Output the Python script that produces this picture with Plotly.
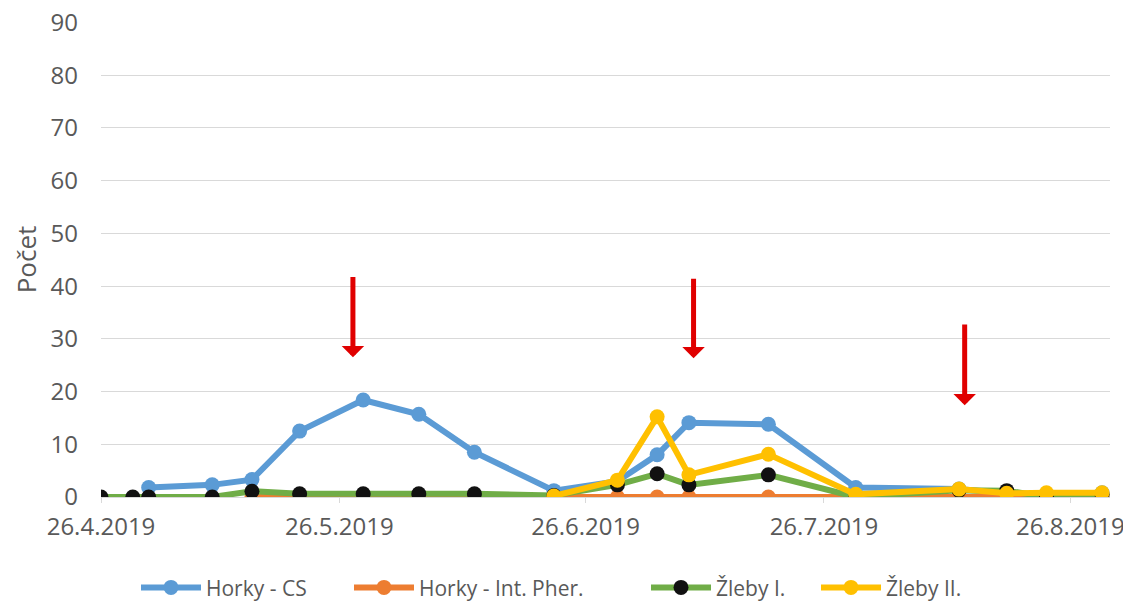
import plotly.graph_objects as go

# ---- data ----
dates_cs = ['2019-05-02', '2019-05-10', '2019-05-15', '2019-05-21', '2019-05-29',
            '2019-06-05', '2019-06-12', '2019-06-22', '2019-06-30', '2019-07-05',
            '2019-07-09', '2019-07-19', '2019-07-30', '2019-08-12', '2019-08-18',
            '2019-08-23', '2019-08-30']
horky_cs = [1.8, 2.3, 3.3, 12.5, 18.4, 15.7, 8.5, 1.2, 3.0, 8.0,
            14.1, 13.8, 1.8, 1.5, 0.6, 0.5, 0.8]

dates_ip = ['2019-05-15', '2019-05-21', '2019-05-29', '2019-06-05', '2019-06-12',
            '2019-06-22', '2019-06-30', '2019-07-05', '2019-07-09', '2019-07-19',
            '2019-07-30', '2019-08-12', '2019-08-18', '2019-08-23', '2019-08-30']
horky_ip = [0, 0, 0, 0, 0, 0, 0, 0, 0, 0, 0, 0, 0, 0, 0]

dates_z1 = ['2019-04-26', '2019-04-30', '2019-05-02', '2019-05-10', '2019-05-15',
            '2019-05-21', '2019-05-29', '2019-06-05', '2019-06-12', '2019-06-22',
            '2019-06-30', '2019-07-05', '2019-07-09', '2019-07-19', '2019-07-30',
            '2019-08-12', '2019-08-18', '2019-08-23', '2019-08-30']
zleby1 = [0, 0, 0, 0, 1.1, 0.6, 0.6, 0.6, 0.6, 0.3,
          2.3, 4.4, 2.3, 4.2, 0, 1.3, 1.2, 0, 0.5]

dates_z2 = ['2019-06-22', '2019-06-30', '2019-07-05', '2019-07-09', '2019-07-19',
            '2019-07-30', '2019-08-12', '2019-08-18', '2019-08-23', '2019-08-30']
zleby2 = [0.2, 3.2, 15.2, 4.2, 8.1, 0.5, 1.5, 0.7, 0.8, 0.8]

tick_dates = ['2019-04-26', '2019-05-26', '2019-06-26', '2019-07-26', '2019-08-26']
tick_labels = ['26.4.2019', '26.5.2019', '26.6.2019', '26.7.2019', '26.8.2019']

# arrows: (x, tip y, tail y)
arrow_x = ['2019-05-27 17:00', '2019-07-09 14:00', '2019-08-12 17:00']
arrow_tip = [26.5, 26.3, 17.4]
arrow_tail = [42.0, 41.7, 33.0]

FONT = 'Open Sans, Lato, sans-serif'
GRAY = '#595959'
FS = 24
LFS = 21

# page body has an 8px margin, so the figure is drawn 8px right/down
W, H = 1123, 594
legend_left_px = [136, 349, 646, 816]   # page x where each legend entry starts

fig = go.Figure()
fig.add_trace(go.Scatter(x=dates_cs, y=horky_cs, name='Horky - CS', mode='lines+markers',
                         line=dict(color='#5B9BD5', width=6), legend='legend',
                         marker=dict(color='#5B9BD5', size=15)))
fig.add_trace(go.Scatter(x=dates_ip, y=horky_ip, name='Horky - Int. Pher.', mode='lines+markers',
                         line=dict(color='#ED7D31', width=6), legend='legend2',
                         marker=dict(color='#ED7D31', size=15)))
fig.add_trace(go.Scatter(x=dates_z1, y=zleby1, name='Žleby I.', mode='lines+markers',
                         line=dict(color='#70AD47', width=6), legend='legend3',
                         marker=dict(color='#111111', size=15)))
fig.add_trace(go.Scatter(x=dates_z2, y=zleby2, name='Žleby II.', mode='lines+markers',
                         line=dict(color='#FFC000', width=6), legend='legend4',
                         marker=dict(color='#FFC000', size=15)))

for ax_, tip, tail in zip(arrow_x, arrow_tip, arrow_tail):
    fig.add_annotation(x=ax_, y=tip, ax=ax_, ay=tail, xref='x', yref='y',
                       axref='x', ayref='y', text='', showarrow=True,
                       arrowhead=1, arrowsize=0.75, arrowwidth=5, arrowcolor='#E00000')

legend_common = dict(orientation='h', xref='container', yref='container',
                     xanchor='left', y=0.024, yanchor='middle', itemwidth=60,
                     bgcolor='rgba(0,0,0,0)',
                     font=dict(family=FONT, size=LFS, color=GRAY))
legends = {}
for i, px in enumerate(legend_left_px):
    key = 'legend' if i == 0 else f'legend{i + 1}'
    legends[key] = dict(legend_common, x=(px - 8) / W)

fig.update_layout(
    width=W, height=H,
    margin=dict(l=93, r=21, t=14, b=105, autoexpand=False),
    paper_bgcolor='white', plot_bgcolor='white',
    font=dict(family=FONT, color=GRAY, size=FS),
    showlegend=True,
    xaxis=dict(type='date', range=['2019-04-26', '2019-08-31'],
               tickvals=tick_dates, ticktext=tick_labels,
               showgrid=False, showline=True, linecolor='#D9D9D9', linewidth=1,
               ticks='outside', ticklen=5, tickcolor='#D9D9D9',
               ticklabelstandoff=3,
               tickfont=dict(family=FONT, size=FS, color=GRAY), zeroline=False),
    yaxis=dict(range=[0, 90.1], tickvals=list(range(0, 100, 10)),
               showgrid=True, gridcolor='#D9D9D9', gridwidth=1,
               zeroline=False, showline=False, ticks='',
               ticklabeloverflow='allow',
               tickfont=dict(family=FONT, size=FS, color=GRAY),
               ticklabelstandoff=22,
               title=dict(text='Počet', font=dict(family=FONT, size=26, color=GRAY), standoff=24)),
    **legends,
)

fig.write_html('out.html')
